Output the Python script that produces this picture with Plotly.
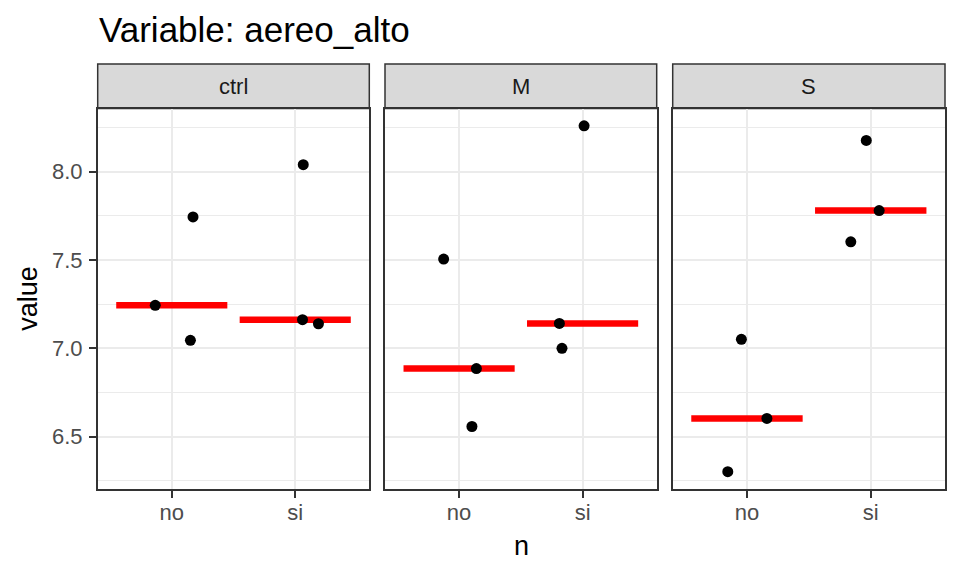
import numpy as np
import plotly.graph_objects as go

# ---- data ----
facets = ["ctrl", "M", "S"]
categories = ["no", "si"]

ctrl_no_values = [7.243, 7.744, 7.045]
ctrl_no_jitter = [-0.134, 0.172, 0.151]
ctrl_si_values = [8.040, 7.162, 7.139]
ctrl_si_jitter = [0.065, 0.059, 0.188]

M_no_values = [7.505, 6.885, 6.557]
M_no_jitter = [-0.125, 0.140, 0.104]
M_si_values = [8.260, 7.141, 7.000]
M_si_jitter = [0.012, -0.188, -0.167]

S_no_values = [7.051, 6.603, 6.301]
S_no_jitter = [-0.045, 0.161, -0.155]
S_si_values = [8.177, 7.780, 7.603]
S_si_jitter = [-0.036, 0.068, -0.161]

title_text = "Variable: aereo_alto"
x_title = "n"
y_title = "value"

data = {
    "ctrl": {"no": (ctrl_no_values, ctrl_no_jitter), "si": (ctrl_si_values, ctrl_si_jitter)},
    "M": {"no": (M_no_values, M_no_jitter), "si": (M_si_values, M_si_jitter)},
    "S": {"no": (S_no_values, S_no_jitter), "si": (S_si_values, S_si_jitter)},
}

# ---- layout geometry ----
W, H = 960, 576
FONT = "Liberation Sans"
panel_px = [(97.7, 369.3), (385.0, 656.7), (672.7, 945.0)]
panel_top, panel_bot = 108.5, 489.0
strip_top = 64.0
half_width = 0.45

all_vals = np.concatenate([np.array(data[f][c][0]) for f in facets for c in categories])
vmin, vmax = all_vals.min(), all_vals.max()
pad = 0.05 * (vmax - vmin)
yrange = [vmin - pad, vmax + pad]

fig = go.Figure()
shapes = []
annotations = []

for i, f in enumerate(facets):
    xa = "x" if i == 0 else f"x{i+1}"
    ya = "y" if i == 0 else f"y{i+1}"
    # median lines first
    for j, c in enumerate(categories):
        vals, jit = data[f][c]
        med = float(np.median(vals))
        pos = j + 1
        fig.add_trace(go.Scatter(
            x=[pos - half_width, pos + half_width], y=[med, med],
            mode="lines", line=dict(color="#FF0000", width=6.5),
            xaxis=xa, yaxis=ya, showlegend=False, hoverinfo="skip"))
    for j, c in enumerate(categories):
        vals, jit = data[f][c]
        pos = j + 1
        fig.add_trace(go.Scatter(
            x=[pos + d for d in jit], y=vals, mode="markers",
            marker=dict(color="black", size=11, line=dict(width=0)),
            xaxis=xa, yaxis=ya, showlegend=False))

    x0, x1 = panel_px[i]
    dom_x = [x0 / W, x1 / W]
    dom_y = [1 - panel_bot / H, 1 - panel_top / H]
    axis_common = dict(showline=True, mirror=True, linecolor="#333333", linewidth=1.5,
                       ticks="outside", ticklen=7, tickwidth=2, tickcolor="#333333",
                       zeroline=False, gridcolor="#EBEBEB", gridwidth=2,
                       tickfont=dict(family=FONT, size=22, color="#4D4D4D"))
    xkey = "xaxis" if i == 0 else f"xaxis{i+1}"
    ykey = "yaxis" if i == 0 else f"yaxis{i+1}"
    fig.update_layout(**{
        xkey: dict(domain=dom_x, anchor=ya, range=[0.4, 2.6],
                   tickvals=[1, 2], ticktext=categories, ticklabelstandoff=-4,
                   **axis_common),
        ykey: dict(domain=dom_y, anchor=xa, range=yrange, tick0=0, dtick=0.5,
                   tickformat=".1f", showticklabels=(i == 0), ticklabelstandoff=2,
                   minor=dict(dtick=0.25, tick0=0, showgrid=True, gridcolor="#EBEBEB",
                              gridwidth=1, ticks=""),
                   **{**axis_common, "ticks": "outside" if i == 0 else ""}),
    })
    # strip
    shapes.append(dict(type="rect", xref=f"{xa} domain", yref="paper",
                       x0=0, x1=1, y0=1 - panel_top / H, y1=1 - strip_top / H,
                       fillcolor="#D9D9D9", line=dict(color="#333333", width=1.5),
                       layer="below"))
    annotations.append(dict(text=f, xref=f"{xa} domain", yref="paper", x=0.5,
                            y=1 - (strip_top + panel_top) / 2 / H,
                            xanchor="center", yanchor="middle", showarrow=False,
                            font=dict(family=FONT, size=22, color="#1A1A1A")))

annotations.append(dict(text=title_text, xref="paper", yref="paper", x=97 / W,
                        y=1 - 29.5 / H, xanchor="left", yanchor="middle",
                        showarrow=False, font=dict(family=FONT, size=35, color="black")))
annotations.append(dict(text=y_title, xref="paper", yref="paper", x=28 / W,
                        y=1 - (panel_top + panel_bot) / 2 / H, textangle=-90,
                        xanchor="center", yanchor="middle", showarrow=False,
                        font=dict(family=FONT, size=27, color="black")))
annotations.append(dict(text=x_title, xref="paper", yref="paper",
                        x=(panel_px[0][0] + panel_px[2][1]) / 2 / W,
                        y=1 - 546 / H, xanchor="center", yanchor="middle",
                        showarrow=False, font=dict(family=FONT, size=27, color="black")))

fig.update_layout(width=W, height=H, margin=dict(l=0, r=0, t=0, b=0),
                  paper_bgcolor="white", plot_bgcolor="white",
                  shapes=shapes, annotations=annotations, showlegend=False)

fig.write_html("out.html", config={"displayModeBar": False},
               post_script="document.body.style.margin='0';document.body.style.overflow='hidden';")
